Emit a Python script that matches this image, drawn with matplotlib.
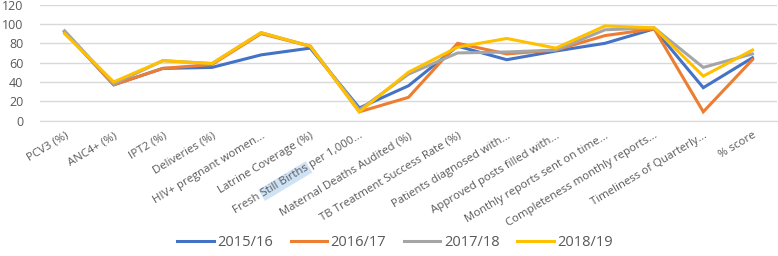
import numpy as np
import matplotlib
matplotlib.use("Agg")
import matplotlib.pyplot as plt
from matplotlib.lines import Line2D
from matplotlib.patches import Polygon
from matplotlib.transforms import IdentityTransform

categories = ["PCV3 (%)", "ANC4+ (%)", "IPT2 (%)", "Deliveries (%)",
              "HIV+ pregnant women...", "Latrine Coverage (%)",
              "Fresh Still Births per 1,000...", "Maternal Deaths Audited (%)",
              "TB Treatment Success Rate (%)", "Patients diagnosed with...",
              "Approved posts filled with...", "Monthly reports sent on time...",
              "Completeness monthly reports...", "Timeliness of Quarterly...",
              "% score"]
s2015 = [92, 37, 54, 55, 68, 75, 13, 36, 77, 63, 72, 80, 95, 34, 65]
s2016 = [92, 37, 54, 58, 90, 77, 9, 24, 80, 69, 73, 88, 95, 9, 63]
s2017 = [93, 38, 62, 59, 91, 77, 11, 48, 70, 71, 73, 94, 96, 55, 69]
s2018 = [90, 40, 62, 59, 91, 77, 9, 50, 76, 85, 75, 98, 96, 46, 73]
series_names = ["2015/16", "2016/17", "2017/18", "2018/19"]
colors = ["#4472C4", "#ED7D31", "#A5A5A5", "#FFC000"]

plt.rcParams['font.family'] = ['Open Sans', 'DejaVu Sans']
fig = plt.figure(figsize=(7.78, 2.56), dpi=100)
ax = fig.add_axes([40/778, 1-120.5/256, (777-40)/778, (120.5-4.7)/256])

x = list(range(len(categories)))
for data, c, n in zip([s2015, s2016, s2017, s2018], colors, series_names):
    ax.plot(x, data, color=c, lw=2.2, label=n, solid_joinstyle='miter')

ROT = 31
ax.set_ylim(0, 120)
ax.set_yticks(range(0, 121, 20))
ax.set_xlim(-0.5, len(categories) - 0.5)
ax.set_xticks(x)
ax.set_xticklabels(categories, rotation=ROT, ha='right', rotation_mode='anchor',
                   fontsize=8.2, color='#595959')
ax.tick_params(axis='y', labelsize=9, labelcolor='#595959', length=0, pad=12)
ax.tick_params(axis='x', length=0, pad=7)
ax.grid(axis='y', color='#D9D9D9', lw=1)
ax.set_axisbelow(True)
for s in ['top', 'right', 'left']:
    ax.spines[s].set_visible(False)
ax.spines['bottom'].set_color('#D9D9D9')

# light-blue selection highlight over "Still Births" as in the reference
fig.canvas.draw()
renderer = fig.canvas.get_renderer()
lbl = ax.get_xticklabels()[6]
prop = lbl.get_fontproperties()
full = lbl.get_text()
W = renderer.get_text_width_height_descent(full, prop, ismath=False)[0]
w0 = renderer.get_text_width_height_descent("Fresh ", prop, ismath=False)[0]
w1 = renderer.get_text_width_height_descent("Fresh Still Births", prop, ismath=False)[0]
_, H, _ = renderer.get_text_width_height_descent("lp", prop, ismath=False)
ax_x, ax_y = lbl.get_transform().transform(lbl.get_position())
th = np.deg2rad(ROT)
R = np.array([[np.cos(th), -np.sin(th)], [np.sin(th), np.cos(th)]])
local = np.array([[-W + w0 - 1, -H - 1], [-W + w1 + 1, -H - 1],
                  [-W + w1 + 1, 1], [-W + w0 - 1, 1]])
pts = local @ R.T + np.array([ax_x, ax_y])
fig.add_artist(Polygon(pts, closed=True, transform=IdentityTransform(),
                       facecolor='#cfe3f6', edgecolor='none', zorder=-1))

handles = [Line2D([0], [0], color=c, lw=2.2) for c in colors]
fig.legend(handles, series_names, loc='center', bbox_to_anchor=(395/778, 1-243/256),
           ncol=4, frameon=False, fontsize=10.5, handlelength=2.5, columnspacing=1.2,
           handletextpad=0.25, labelcolor='#595959')

fig.savefig("out.png", dpi=100)
